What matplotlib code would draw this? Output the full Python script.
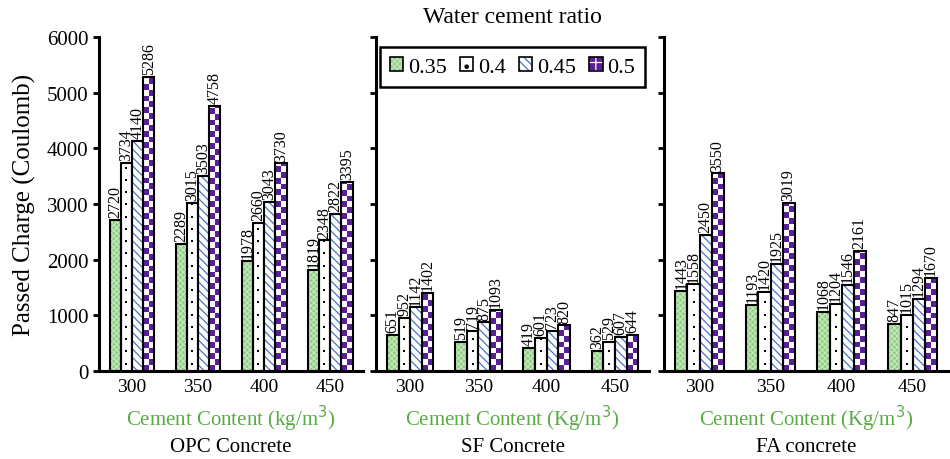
import numpy as np
import matplotlib.pyplot as plt
from matplotlib.colors import ListedColormap
from matplotlib.legend_handler import HandlerTuple
from matplotlib.patches import Patch

plt.rcParams['font.family'] = ['Liberation Serif', 'DejaVu Serif']
plt.rcParams['hatch.linewidth'] = 0.9

contents = ['300', '350', '400', '450']
ratios = ['0.35', '0.4', '0.45', '0.5']

# rows: w/c ratio 0.35, 0.4, 0.45, 0.5 ; columns: cement content
opc = [[2720, 2289, 1978, 1819],
       [3734, 3015, 2660, 2348],
       [4140, 3503, 3043, 2822],
       [5286, 4758, 3730, 3395]]
sf = [[651, 519, 419, 362],
      [952, 719, 601, 529],
      [1142, 875, 723, 607],
      [1402, 1093, 820, 644]]
fa = [[1443, 1193, 1068, 847],
      [1558, 1420, 1204, 1015],
      [2450, 1925, 1546, 1294],
      [3550, 3019, 2161, 1670]]

xlabels = ['Cement Content (kg/m$^3$)', 'Cement Content (Kg/m$^3$)', 'Cement Content (Kg/m$^3$)']
titles = ['OPC Concrete', 'SF Concrete', 'FA concrete']

green = '#8fcd80'
purple = '#5a1f96'
blue = '#4a74d0'
checker_cmap = ListedColormap([purple, 'white'])
cell = 105      # checker square height, data units
dot_step = 220  # spacing of the dots in the 0.4 bars, data units

fig = plt.figure(figsize=(9.5, 4.6), dpi=100)
boxes = [(0.1042, 0.278), (0.3958, 0.2874), (0.699, 0.299)]
bottom, height = 0.1913, 0.726
w = 0.17
x = np.arange(len(contents))

for p, (data, (left, width)) in enumerate(zip([opc, sf, fa], boxes)):
    ax = fig.add_axes([left, bottom, width, height])
    for i in range(4):
        xi = x + (i - 1.5) * w
        if i == 0:
            ax.bar(xi, data[i], w, color=green, edgecolor='#c4e6bb', hatch='xxxxxx',
                   linewidth=0, zorder=1)
        elif i == 1:
            bars = ax.bar(xi, data[i], w, color='white', linewidth=0, zorder=1)
            for r in bars:
                ys = np.arange(dot_step * 0.6, r.get_height(), dot_step)
                ax.scatter(np.full(len(ys), r.get_x() + r.get_width() / 2), ys,
                           marker='s', s=2.2, color='black', linewidths=0, zorder=1.5)
        elif i == 2:
            ax.bar(xi, data[i], w, color='white', edgecolor=blue, hatch='\\\\\\\\',
                   linewidth=0, zorder=1)
        else:
            bars = ax.bar(xi, data[i], w, color='white', linewidth=0, zorder=1)
            for r in bars:
                n = int(np.ceil(r.get_height() / cell))
                grid = np.add.outer(np.arange(n), np.arange(2)) % 2
                im = ax.imshow(grid, cmap=checker_cmap, origin='lower',
                               extent=(r.get_x(), r.get_x() + r.get_width(), 0, n * cell),
                               aspect='auto', interpolation='nearest', zorder=1.5)
                im.set_clip_path(r)
        edge = ax.bar(xi, data[i], w, fill=False, edgecolor='black',
                      linewidth=1.5, zorder=2)
        ax.bar_label(edge, rotation=90, padding=2, fontsize=11.5)

    ax.set_xlim(-0.5, 3.5)
    ax.set_ylim(0, 6000)
    ax.set_yticks(range(0, 6001, 1000))
    ax.set_xticks(x, contents)
    ax.tick_params(axis='x', length=0, labelsize=14, pad=5)
    ax.tick_params(axis='y', length=4, width=2, labelsize=15)
    if p > 0:
        ax.tick_params(axis='y', labelleft=False)
    else:
        ax.set_ylabel('Passed Charge (Coulomb)', fontsize=18, labelpad=8)
    for s in ['top', 'right']:
        ax.spines[s].set_visible(False)
    for s in ['left', 'bottom']:
        ax.spines[s].set_linewidth(2.2)
    ax.set_xlabel(xlabels[p], color='#5aab46', fontsize=15, labelpad=6)
    fig.text(left + width / 2, 0.028, titles[p], ha='center', va='center', fontsize=15)

    if p == 1:
        inners = [Patch(facecolor=green, edgecolor='#c4e6bb', hatch='xxxxxx', linewidth=0),
                  Patch(facecolor='white', edgecolor='black', hatch='.', linewidth=0),
                  Patch(facecolor='white', edgecolor=blue, hatch='\\\\\\\\', linewidth=0),
                  Patch(facecolor=purple, edgecolor='white', hatch='++', linewidth=0)]
        handles = [(h, Patch(fill=False, edgecolor='black', linewidth=1.2)) for h in inners]
        leg = ax.legend(handles, ratios, ncol=4, loc='upper center',
                        bbox_to_anchor=(0.5, 0.97), borderaxespad=0, fontsize=16,
                        handler_map={tuple: HandlerTuple(ndivide=1, pad=0)},
                        handlelength=0.6, handleheight=0.6, handletextpad=0.2,
                        columnspacing=0.6, fancybox=False, edgecolor='black',
                        borderpad=0.45, framealpha=1)
        leg.get_frame().set_linewidth(1.8)

fig.text(0.539, 0.961, 'Water cement ratio', ha='center', va='center', fontsize=17)

fig.savefig('out.png', dpi=100)
